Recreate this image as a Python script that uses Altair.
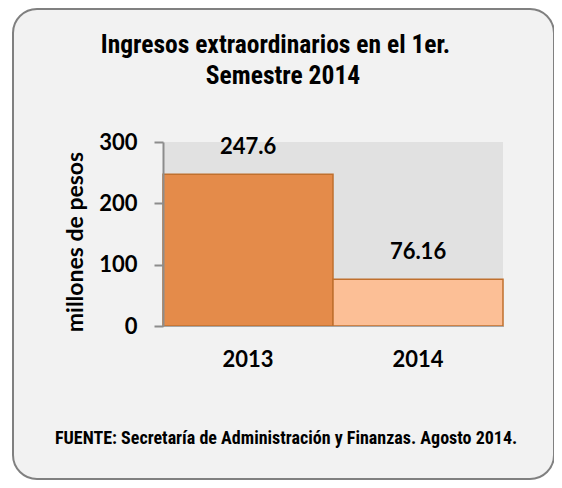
import altair as alt
import pandas as pd

years = ["2013", "2014"]
values = [247.6, 76.16]
value_labels = ["247.6", "76.16"]
fills = ["#e48b4a", "#fcbf96"]
y_ticks = [0, 100, 200, 300]
title_lines = ["Ingresos extraordinarios en el 1er.", "Semestre 2014"]
y_title = "millones de pesos"
source = "FUENTE: Secretaría de Administración y Finanzas. Agosto 2014."

df = pd.DataFrame({"year": years, "value": values, "label": value_labels})
one = pd.DataFrame({"k": [0]})

W, H = 340, 184
NARROW = "Liberation Sans Narrow, Arial Narrow, Roboto Condensed, Liberation Sans"
NUM = "Lato"

frame = alt.Chart(one).mark_rect(
    cornerRadius=24, fill="#f2f2f2", stroke="#808080", strokeWidth=2
).encode(x=alt.value(-150), x2=alt.value(391), y=alt.value(-133), y2=alt.value(337))

plotbg = alt.Chart(one).mark_rect(fill="#e1e1e1").encode(
    x=alt.value(0), x2=alt.value(W), y=alt.value(0), y2=alt.value(H)
)

x_enc = alt.X(
    "year:N",
    sort=years,
    scale=alt.Scale(paddingInner=0, paddingOuter=0),
    axis=alt.Axis(
        title=None, labelAngle=0, ticks=False, tickSize=0,
        labelFont=NUM, labelFontWeight="bold", labelFontSize=22, labelColor="black",
        labelBaseline="middle", labelPadding=33,
        domainColor="#a6a6a6", domainWidth=1, zindex=1,
    ),
)
y_enc = alt.Y(
    "value:Q",
    scale=alt.Scale(domain=[0, 300]),
    axis=alt.Axis(
        values=y_ticks, grid=False, title=None,
        domainColor="#8c8c8c", domainWidth=2, tickColor="#8c8c8c", tickWidth=2, tickSize=9,
        labelFont=NUM, labelFontWeight="bold", labelFontSize=22, labelColor="black",
        labelPadding=17, labelBaseline="middle",
        zindex=1,
    ),
)

bars = alt.Chart(df).mark_bar(stroke="#c0702e", strokeWidth=1.5).encode(
    x=x_enc,
    y=y_enc,
    color=alt.Color("year:N", scale=alt.Scale(domain=years, range=fills), legend=None),
)

labels = alt.Chart(df).mark_text(
    font=NUM, fontWeight="bold", fontSize=22, color="black", baseline="middle", dy=-27
).encode(x=alt.X("year:N", sort=years), y="value:Q", text="label:N")

ytitle = alt.Chart(one).mark_text(
    text=y_title, font=NUM, fontWeight="bold", fontSize=23, color="black",
    align="center", baseline="middle", angle=270
).encode(x=alt.value(-87), y=alt.value(100))

t1 = alt.Chart(one).mark_text(
    text=title_lines[0], font=NARROW, fontWeight="bold", fontSize=25.5, color="black",
    align="center", baseline="middle"
).encode(x=alt.value(112.5), y=alt.value(-97))
t2 = alt.Chart(one).mark_text(
    text=title_lines[1], font=NARROW, fontWeight="bold", fontSize=25.5, color="black",
    align="center", baseline="middle"
).encode(x=alt.value(120), y=alt.value(-66))
foot = alt.Chart(one).mark_text(
    text=source, font=NARROW, fontWeight="bold", fontSize=18, color="black",
    align="left", baseline="middle"
).encode(x=alt.value(-108), y=alt.value(297))

chart = alt.layer(frame, plotbg, bars, labels, ytitle, t1, t2, foot).properties(
    width=W, height=H,
    autosize=alt.AutoSizeParams(type="none"),
    padding={"left": 155, "top": 134, "right": 51, "bottom": 154},
    background="white",
).configure_view(strokeWidth=0)

chart.save("out.html", embed_options={"renderer": "svg", "actions": False})
